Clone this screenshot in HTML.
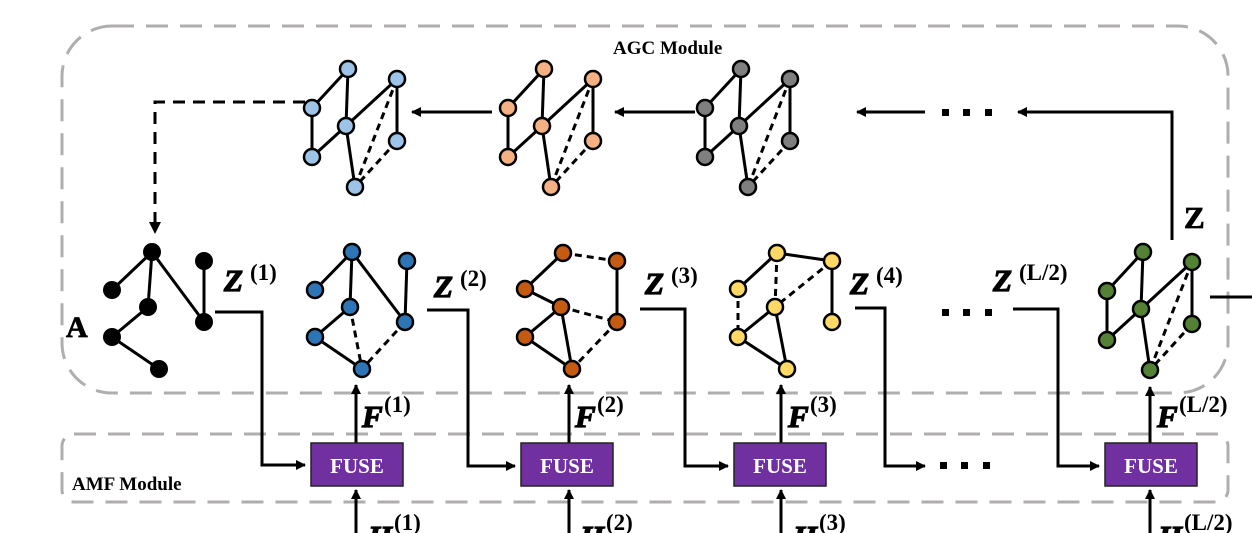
<!DOCTYPE html>
<html><head><meta charset="utf-8"><style>
html,body{margin:0;padding:0;background:#fff;}
svg{display:block;}
.lbl{font-family:"Liberation Serif",serif;font-weight:bold;font-style:italic;font-size:31px;fill:#000;stroke:#000;stroke-width:1.2;}
.sup{font-family:"Liberation Serif",serif;font-weight:bold;font-style:normal;font-size:23px;fill:#000;}
.mod{font-family:"Liberation Serif",serif;font-weight:bold;font-size:19px;fill:#000;}
.fuse{font-family:"Liberation Serif",serif;font-weight:bold;font-size:21px;fill:#fff;}
</style></head><body>
<svg width="1252" height="533" viewBox="0 0 1252 533" xmlns="http://www.w3.org/2000/svg">
<defs>
<marker id="ah" markerWidth="10" markerHeight="10" refX="9" refY="5" orient="auto" markerUnits="userSpaceOnUse">
<path d="M0,0 L10,5 L0,10 z" fill="#000"/></marker>
</defs>
<rect x="62" y="26" width="1166" height="367" rx="50" fill="none" stroke="#b0adad" stroke-width="3" stroke-dasharray="22,12"/>
<rect x="62" y="434" width="1166" height="68" rx="12" fill="none" stroke="#b0adad" stroke-width="3" stroke-dasharray="22,12"/>
<text class="mod" x="613" y="54">AGC Module</text>
<text class="mod" x="72" y="490">AMF Module</text>

<g stroke="#000" stroke-width="3" fill="none">
<path d="M305,102 H155 V226" stroke-dasharray="12,8"/>
<path d="M492,112 H412" marker-end="url(#ah)"/>
<path d="M695,112 H615" marker-end="url(#ah)"/>
<path d="M925,112 H857" marker-end="url(#ah)"/>
<path d="M1172,240 V112 H1018" marker-end="url(#ah)"/>
<path d="M215,312 H262 V465 H305" marker-end="url(#ah)"/>
<path d="M427,310 H468 V466 H515" marker-end="url(#ah)"/>
<path d="M640,309 H685 V466 H728" marker-end="url(#ah)"/>
<path d="M855,308 H885 V466 H925" marker-end="url(#ah)"/>
<path d="M1013,309 H1058 V466 H1099" marker-end="url(#ah)"/>
<path d="M1210,297 H1252"/>
<path d="M356,443 V385" marker-end="url(#ah)"/>
<path d="M569,443 V385" marker-end="url(#ah)"/>
<path d="M781,443 V385" marker-end="url(#ah)"/>
<path d="M1150,443 V387" marker-end="url(#ah)"/>
<path d="M356,533 V490" marker-end="url(#ah)"/>
<path d="M569,533 V490" marker-end="url(#ah)"/>
<path d="M781,533 V490" marker-end="url(#ah)"/>
<path d="M1150,533 V490" marker-end="url(#ah)"/>
</g>
<path d="M149,222 L161,222 L155,234 z" fill="#000"/>
<g fill="#000">
<rect x="942" y="109" width="7" height="7"/><rect x="963" y="109" width="7" height="7"/><rect x="985" y="109" width="7" height="7"/>
<rect x="942" y="309" width="7" height="7"/><rect x="963" y="309" width="7" height="7"/><rect x="985" y="309" width="7" height="7"/>
<rect x="940" y="462" width="7" height="7"/><rect x="961" y="462" width="7" height="7"/><rect x="983" y="462" width="7" height="7"/>
</g>

<g stroke="#222" stroke-width="1.5" fill="#7030a0">
<rect x="311" y="443" width="92" height="43"/>
<rect x="521" y="443" width="92" height="43"/>
<rect x="734" y="443" width="92" height="43"/>
<rect x="1105" y="443" width="92" height="43"/>
</g>
<g class="fuse" text-anchor="middle">
<text x="357" y="473">FUSE</text><text x="567" y="473">FUSE</text><text x="780" y="473">FUSE</text><text x="1151" y="473">FUSE</text>
</g>

<g id="tg" stroke="#000" stroke-width="3">
<line x1="312" y1="108" x2="348" y2="69"/><line x1="348" y1="69" x2="346" y2="126"/>
<line x1="346" y1="126" x2="397" y2="79"/><line x1="397" y1="79" x2="397" y2="141"/>
<line x1="312" y1="108" x2="312" y2="157"/><line x1="346" y1="126" x2="312" y2="157"/>
<line x1="346" y1="126" x2="355" y2="187"/>
<line x1="397" y1="79" x2="355" y2="187" stroke-dasharray="7,5"/>
<line x1="397" y1="141" x2="355" y2="187" stroke-dasharray="7,5"/>
</g>
<use href="#tg" transform="translate(196,0)"/>
<use href="#tg" transform="translate(393,0)"/>
<use href="#tg" transform="translate(795,183)"/>
<g stroke="#000" stroke-width="2.5">
<g fill="#9dc3e6"><circle cx="348" cy="69" r="8"/><circle cx="397" cy="79" r="8"/><circle cx="312" cy="108" r="8"/><circle cx="346" cy="126" r="8"/><circle cx="397" cy="141" r="8"/><circle cx="312" cy="157" r="8"/><circle cx="355" cy="187" r="8"/></g>
<g fill="#f4b183" transform="translate(196,0)"><circle cx="348" cy="69" r="8"/><circle cx="397" cy="79" r="8"/><circle cx="312" cy="108" r="8"/><circle cx="346" cy="126" r="8"/><circle cx="397" cy="141" r="8"/><circle cx="312" cy="157" r="8"/><circle cx="355" cy="187" r="8"/></g>
<g fill="#7f7f7f" transform="translate(393,0)"><circle cx="348" cy="69" r="8"/><circle cx="397" cy="79" r="8"/><circle cx="312" cy="108" r="8"/><circle cx="346" cy="126" r="8"/><circle cx="397" cy="141" r="8"/><circle cx="312" cy="157" r="8"/><circle cx="355" cy="187" r="8"/></g>
<g fill="#548235" transform="translate(795,183)"><circle cx="348" cy="69" r="8"/><circle cx="397" cy="79" r="8"/><circle cx="312" cy="108" r="8"/><circle cx="346" cy="126" r="8"/><circle cx="397" cy="141" r="8"/><circle cx="312" cy="157" r="8"/><circle cx="355" cy="187" r="8"/></g>
</g>

<g stroke="#000" stroke-width="3">
<line x1="152" y1="252" x2="112" y2="290"/><line x1="152" y1="252" x2="148" y2="307"/>
<line x1="152" y1="252" x2="204" y2="322"/><line x1="204" y1="261" x2="204" y2="322"/>
<line x1="148" y1="307" x2="112" y2="337"/><line x1="112" y1="337" x2="159" y2="369"/>
</g>
<g fill="#000"><circle cx="152" cy="252" r="9"/><circle cx="112" cy="290" r="9"/><circle cx="148" cy="307" r="9"/><circle cx="204" cy="261" r="9"/><circle cx="204" cy="322" r="9"/><circle cx="112" cy="337" r="9"/><circle cx="159" cy="369" r="9"/></g>

<g stroke="#000" stroke-width="3">
<line x1="352" y1="252" x2="315" y2="290"/><line x1="352" y1="252" x2="350" y2="307"/>
<line x1="352" y1="252" x2="405" y2="322"/><line x1="407" y1="261" x2="405" y2="322"/>
<line x1="350" y1="307" x2="315" y2="337"/><line x1="315" y1="337" x2="362" y2="369"/>
<line x1="350" y1="307" x2="362" y2="369" stroke-dasharray="7,5"/>
<line x1="405" y1="322" x2="362" y2="369" stroke-dasharray="7,5"/>
</g>
<g fill="#2e75b6" stroke="#000" stroke-width="2.5"><circle cx="352" cy="252" r="8"/><circle cx="315" cy="290" r="8"/><circle cx="350" cy="307" r="8"/><circle cx="407" cy="261" r="8"/><circle cx="405" cy="322" r="8"/><circle cx="315" cy="337" r="8"/><circle cx="362" cy="369" r="8"/></g>

<g stroke="#000" stroke-width="3">
<line x1="563" y1="253" x2="617" y2="261" stroke-dasharray="7,5"/><line x1="617" y1="261" x2="617" y2="322"/>
<line x1="525" y1="289" x2="563" y2="253"/><line x1="525" y1="289" x2="561" y2="307"/>
<line x1="561" y1="307" x2="617" y2="322" stroke-dasharray="7,5"/>
<line x1="561" y1="307" x2="525" y2="337"/><line x1="561" y1="307" x2="572" y2="369"/>
<line x1="525" y1="337" x2="572" y2="369"/>
<line x1="617" y1="322" x2="572" y2="369" stroke-dasharray="7,5"/>
</g>
<g fill="#c55a11" stroke="#000" stroke-width="2.5"><circle cx="563" cy="253" r="8"/><circle cx="617" cy="261" r="8"/><circle cx="525" cy="289" r="8"/><circle cx="561" cy="307" r="8"/><circle cx="617" cy="322" r="8"/><circle cx="525" cy="337" r="8"/><circle cx="572" cy="369" r="8"/></g>

<g stroke="#000" stroke-width="3">
<line x1="738" y1="289" x2="777" y2="253"/><line x1="777" y1="253" x2="832" y2="261"/>
<line x1="777" y1="253" x2="775" y2="307" stroke-dasharray="7,5"/>
<line x1="832" y1="261" x2="832" y2="322"/>
<line x1="832" y1="261" x2="775" y2="307" stroke-dasharray="7,5"/>
<line x1="738" y1="289" x2="738" y2="337" stroke-dasharray="7,5"/>
<line x1="775" y1="307" x2="738" y2="337"/><line x1="775" y1="307" x2="787" y2="369"/>
<line x1="738" y1="337" x2="787" y2="369"/>
</g>
<g fill="#ffd966" stroke="#000" stroke-width="2.5"><circle cx="777" cy="253" r="8"/><circle cx="832" cy="261" r="8"/><circle cx="738" cy="289" r="8"/><circle cx="775" cy="307" r="8"/><circle cx="832" cy="322" r="8"/><circle cx="738" cy="337" r="8"/><circle cx="787" cy="369" r="8"/></g>

<text x="66" y="337" font-family="Liberation Serif,serif" font-weight="bold" font-size="30" stroke="#000" stroke-width="0.8">A</text>
<text x="1184" y="228" font-family="Liberation Serif,serif" font-weight="bold" font-size="31" stroke="#000" stroke-width="0.8">Z</text>
<text class="lbl" x="224" y="291">Z</text><text class="sup" x="250" y="280">(1)</text>
<text class="lbl" x="434" y="297">Z</text><text class="sup" x="460" y="286">(2)</text>
<text class="lbl" x="645" y="294">Z</text><text class="sup" x="671" y="283">(3)</text>
<text class="lbl" x="850" y="294">Z</text><text class="sup" x="876" y="283">(4)</text>
<text class="lbl" x="993" y="291">Z</text><text class="sup" x="1019" y="280">(L/2)</text>
<text class="lbl" x="362" y="427">F</text><text class="sup" x="384" y="412">(1)</text>
<text class="lbl" x="575" y="427">F</text><text class="sup" x="597" y="412">(2)</text>
<text class="lbl" x="788" y="427">F</text><text class="sup" x="810" y="412">(3)</text>
<text class="lbl" x="1157" y="427">F</text><text class="sup" x="1179" y="412">(L/2)</text>
<text class="lbl" x="368" y="547">H</text><text class="sup" x="394" y="530">(1)</text>
<text class="lbl" x="580" y="547">H</text><text class="sup" x="606" y="530">(2)</text>
<text class="lbl" x="793" y="547">H</text><text class="sup" x="819" y="530">(3)</text>
<text class="lbl" x="1158" y="547">H</text><text class="sup" x="1184" y="530">(L/2)</text>
</svg>
</body></html>
